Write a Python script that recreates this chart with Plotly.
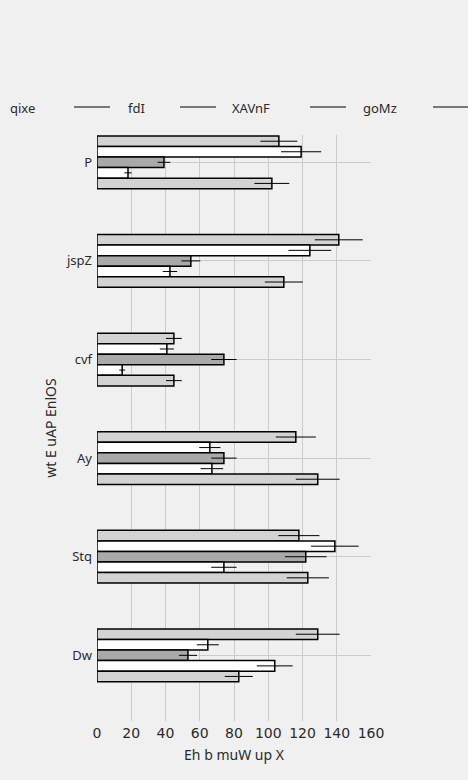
import plotly.graph_objects as go

categories = ["P", "jspZ", "cvf", "Ay", "Stq", "Dw"]
legend_title = "qixe"
series_names = ["fdI", "XAVnF", "goMz", "s4", "s5"]
series_values = [
    [106.2, 141.2, 44.9, 116.1, 117.9, 128.9],
    [119.2, 124.3, 40.8, 65.9, 138.9, 64.7],
    [39.1, 54.8, 74.1, 74.1, 121.9, 53.1],
    [18.1, 42.6, 14.7, 67.1, 74.1, 103.8],
    [102.1, 109.1, 44.9, 128.9, 123.1, 82.8],
]
series_errors = [
    [10.8, 14.0, 4.6, 11.7, 12.0, 12.8],
    [11.7, 12.5, 4.1, 6.2, 13.9, 6.4],
    [3.7, 5.5, 7.4, 7.4, 12.2, 5.3],
    [2.1, 4.2, 1.7, 6.6, 7.4, 10.5],
    [10.2, 11.1, 4.6, 12.8, 12.3, 8.2],
]
x_ticks = [0, 20, 40, 60, 80, 100, 120, 140, 160]
x_title = "Eh b muW up X"
y_title = "wt E uAP EnlOS"

colors = ["#d3d3d3", "#ffffff", "#a9a9a9", "#ffffff", "#d3d3d3"]

W, H = 468, 780
L, R, T, B = 97, 97, 135, 59
PW, PH = W - L - R, H - T - B


def px_x(p):
    return (p - L) / PW


def px_y(p):
    return (H - B - p) / PH


fig = go.Figure()
for name, vals, errs, col in zip(series_names, series_values, series_errors, colors):
    fig.add_trace(go.Bar(
        y=categories, x=vals, name=name, orientation="h",
        marker=dict(color=col, line=dict(color="#000000", width=1.5)),
        error_x=dict(type="data", array=errs, color="#000000", thickness=1, width=0),
        showlegend=False,
    ))

font_main = "Noto Sans, Open Sans, sans-serif"
txt_col = "#2b2b2b"

# legend drawn as text + line samples (single row overflowing like the reference)
annotations = []
shapes = []
leg_y = px_y(108)
annotations.append(dict(text=legend_title, x=px_x(8), y=leg_y, xref="paper", yref="paper",
                        xanchor="left", yanchor="middle", showarrow=False,
                        font=dict(family=font_main, size=13, color=txt_col)))
line_starts = [74, 180, 310, 433]
text_starts = [126, 230, 361]
for i, ls in enumerate(line_starts):
    shapes.append(dict(type="line", xref="paper", yref="paper",
                       x0=px_x(ls), x1=px_x(ls + 36), y0=px_y(107), y1=px_y(107),
                       line=dict(color="#000000", width=1)))
for i, ts in enumerate(text_starts):
    annotations.append(dict(text=series_names[i], x=px_x(ts), y=leg_y, xref="paper", yref="paper",
                            xanchor="left", yanchor="middle", showarrow=False,
                            font=dict(family=font_main, size=13, color=txt_col)))

fig.update_layout(
    width=W, height=H,
    margin=dict(l=L, r=R, t=T, b=B, pad=0),
    paper_bgcolor="#f0f0f0", plot_bgcolor="#f0f0f0",
    barmode="group", bargap=0.465, bargroupgap=0,
    showlegend=False,
    annotations=annotations, shapes=shapes,
    xaxis=dict(
        range=[0, 160], tickvals=x_ticks, ticktext=[str(t) for t in x_ticks],
        showgrid=True, gridcolor="#cccccc", gridwidth=1, zeroline=False,
        showline=False, ticks="", ticklabelstandoff=2,
        tickfont=dict(family="DejaVu Sans", size=14, color=txt_col),
        title=dict(text=x_title, font=dict(family=font_main, size=14, color=txt_col), standoff=10),
    ),
    yaxis=dict(
        range=[5.666, -0.277], showgrid=True, gridcolor="#cccccc", gridwidth=1,
        zeroline=False, showline=False, ticks="", ticklabelstandoff=4,
        tickfont=dict(family=font_main, size=13, color=txt_col),
        title=dict(text=y_title, font=dict(family=font_main, size=14, color=txt_col), standoff=6),
    ),
)

fig.write_html("out.html")
